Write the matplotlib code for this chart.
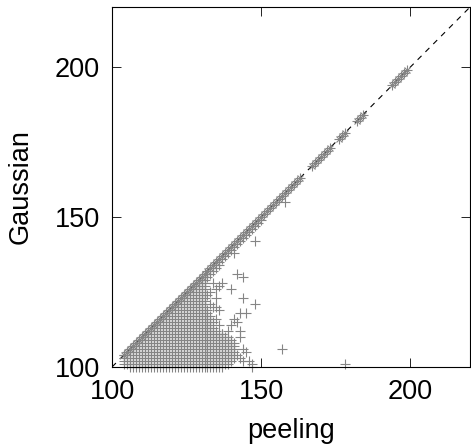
import numpy as np
import matplotlib
matplotlib.use("Agg")
import matplotlib.pyplot as plt
from matplotlib import rcParams

rcParams['font.family'] = ['Liberation Sans', 'DejaVu Sans']
rcParams['font.size'] = 19.5

# points on the diagonal (peeling == Gaussian)
diag_vals = list(range(104, 164)) + [167, 168, 169, 170, 171, 172, 173,
                                     176, 177, 178, 182, 183, 184,
                                     194, 195, 196, 197, 198, 199]

# dense triangle, per peeling column: Gaussian from lo to hi
col_peel = list(range(104, 142))
col_lo = [101, 101, 100, 100, 100, 100, 100, 100, 100, 100,
          100, 100, 100, 100, 100, 100, 100, 100, 100, 100,
          100, 100, 100, 100, 100, 100, 100, 100, 100, 100,
          100, 100, 100, 100, 101, 101, 102, 103]
col_hi = [104, 105, 106, 107, 108, 109, 110, 111, 112, 113,
          114, 115, 116, 117, 118, 119, 120, 121, 122, 123,
          124, 125, 126, 127, 128, 129, 130, 131, 119, 116,
          113, 112, 111, 111, 110, 110, 109, 108]

# band just below the diagonal
band_peel = list(range(132, 161))
band_width = [3, 3, 3, 3, 3, 2, 2, 2, 2, 2,
              2, 2, 2, 2, 2, 2, 2, 2, 2, 1,
              1, 1, 1, 1, 1, 1, 1, 1, 1]

# scattered points
extra_peel = [148, 141, 142, 144, 140, 144, 148, 143, 145, 142, 140, 143,
              157, 178, 147, 145, 144, 158, 137, 135, 135, 135, 135, 136,
              133, 134, 134, 133, 132, 133, 134, 136, 141, 142, 143, 144,
              146, 147, 143, 139, 136, 137]
extra_gauss = [142, 138, 131, 130, 126, 123, 121, 118, 118, 115, 114, 112,
               106, 101, 101, 105, 106, 155, 128, 126, 123, 120, 116, 127,
               125, 128, 120, 117, 124, 121, 115, 119, 116, 104, 103, 102,
               102, 100, 110, 112, 114, 111]

# build the point table
peel = []
gauss = []
for p, lo, hi in zip(col_peel, col_lo, col_hi):
    for g in range(lo, hi + 1):
        peel.append(p)
        gauss.append(g)
for p, w in zip(band_peel, band_width):
    for k in range(1, w):
        peel.append(p)
        gauss.append(p - k)
peel += extra_peel
gauss += extra_gauss
peel += diag_vals
gauss += diag_vals

fig = plt.figure(figsize=(4.71, 4.45), dpi=100)
ax = fig.add_axes([0.2378, 0.1753, 0.7602, 0.8089])

ax.plot([100, 220], [100, 220], color='black', lw=0.8, dashes=(5, 5), zorder=1)
ax.plot(peel, gauss, linestyle='none', marker='+', ms=6.5, mew=0.8,
        color='#858585', clip_on=False, zorder=2)
ax.plot(diag_vals, diag_vals, linestyle='none', marker='x', ms=5, mew=0.8,
        color='#858585', clip_on=False, zorder=2)

ax.set_xlim(100, 220)
ax.set_ylim(100, 220)
ax.set_xticks([100, 150, 200])
ax.set_yticks([100, 150, 200])
ax.tick_params(direction='in', top=True, right=True, length=6.5, width=0.6,
               pad=8.5)
for s in ax.spines.values():
    s.set_linewidth(0.8)

ax.set_xlabel('peeling', labelpad=9.5)
ax.set_ylabel('Gaussian', labelpad=15)

fig.savefig('out.png', dpi=100)
